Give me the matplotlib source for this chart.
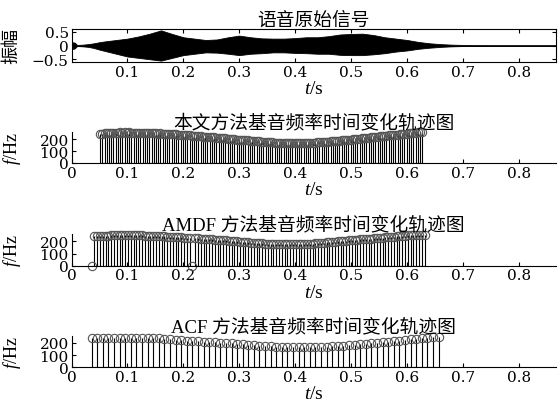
import numpy as np
import matplotlib
matplotlib.use("Agg")
import matplotlib.pyplot as plt

plt.rcParams['font.family'] = ['Liberation Serif', 'Noto Sans CJK SC']
plt.rcParams['mathtext.fontset'] = 'custom'
plt.rcParams['mathtext.rm'] = 'Liberation Serif'
plt.rcParams['mathtext.it'] = 'Liberation Serif:italic'
plt.rcParams['axes.unicode_minus'] = True

# waveform envelope
env_t = [0, 0.003, 0.006, 0.01, 0.02, 0.03, 0.04, 0.05, 0.06,
         0.08, 0.10, 0.12, 0.14, 0.16, 0.18, 0.20, 0.22, 0.24, 0.26, 0.28,
         0.30, 0.32, 0.34, 0.36, 0.38, 0.40, 0.42, 0.44, 0.46, 0.48, 0.50,
         0.52, 0.54, 0.56, 0.58, 0.60, 0.62, 0.64, 0.66, 0.68, 0.70, 0.72,
         0.75, 0.80, 0.866]
env_upper = [0, 0.12, 0.1, 0.02, 0.03, 0.05, 0.08, 0.12, 0.15,
             0.2, 0.25, 0.33, 0.43, 0.55, 0.42, 0.3, 0.25, 0.2, 0.22, 0.3,
             0.36, 0.3, 0.26, 0.25, 0.25, 0.27, 0.3, 0.3, 0.34, 0.4, 0.42,
             0.43, 0.38, 0.3, 0.25, 0.2, 0.13, 0.08, 0.05, 0.03, 0.02, 0.012,
             0.006, 0.003, 0.002]
env_lower = [0, -0.13, -0.1, -0.02, -0.03, -0.05, -0.09, -0.15, -0.2,
             -0.3, -0.4, -0.45, -0.5, -0.55, -0.45, -0.35, -0.3, -0.25, -0.26, -0.3,
             -0.35, -0.3, -0.28, -0.25, -0.25, -0.27, -0.28, -0.3, -0.3, -0.34, -0.35,
             -0.35, -0.32, -0.28, -0.22, -0.18, -0.12, -0.08, -0.05, -0.03, -0.02, -0.012,
             -0.006, -0.003, -0.002]

# pitch tracks (Hz), frame start time and frame step
prop_t0, prop_step = 0.051, 0.004
prop_f0 = [243, 246, 249, 251, 253, 252, 254, 255, 253, 256,
           255, 257, 254, 256, 255, 253, 255, 254, 252, 253,
           252, 250, 251, 249, 250, 248, 247, 248, 246, 245,
           244, 243, 241, 242, 240, 238, 237, 236, 234, 233,
           231, 230, 228, 227, 225, 224, 222, 220, 219, 217,
           216, 214, 212, 211, 209, 207, 206, 204, 202, 200,
           199, 197, 196, 194, 192, 190, 189, 187, 186, 184,
           182, 181, 179, 178, 176, 175, 174, 172, 171, 170,
           169, 168, 167, 166, 166, 165, 165, 164, 165, 165,
           166, 166, 167, 168, 169, 170, 171, 172, 174, 175,
           177, 178, 180, 181, 183, 185, 186, 188, 190, 192,
           193, 195, 197, 199, 201, 203, 205, 207, 209, 211,
           213, 215, 217, 219, 221, 223, 225, 227, 229, 231,
           233, 235, 237, 239, 241, 243, 245, 247, 249, 251,
           253, 255, 257, 259, 261]

amdf_t0, amdf_step = 0.036, 0.005
amdf_f0 = [0, 240, 243, 245, 246, 247, 246, 248, 249, 248,
           250, 251, 250, 249, 251, 250, 249, 248, 249, 247,
           246, 246, 245, 244, 243, 242, 240, 239, 238, 236,
           235, 234, 232, 231, 229, 228, 0, 226, 224, 223,
           221, 219, 218, 216, 214, 212, 211, 209, 207, 205,
           203, 201, 199, 197, 195, 194, 192, 190, 188, 187,
           185, 183, 182, 180, 179, 178, 177, 176, 175, 175,
           174, 174, 174, 175, 175, 176, 177, 178, 180, 181,
           183, 185, 187, 189, 191, 193, 195, 197, 199, 201,
           203, 205, 207, 209, 211, 213, 215, 217, 219, 221,
           223, 225, 227, 229, 231, 233, 235, 237, 239, 241,
           243, 245, 247, 248, 250, 251, 252, 253, 254, 255]

acf_t0, acf_step = 0.036, 0.01
acf_f0 = [238, 239, 239, 240, 239, 240, 240, 239, 240, 239,
          238, 238, 237, 236, 231, 226, 222, 219, 216, 214,
          211, 209, 206, 203, 200, 197, 193, 189, 185, 181,
          178, 175, 172, 170, 168, 166, 165, 164, 164, 165,
          166, 168, 170, 173, 176, 179, 183, 187, 191, 195,
          199, 203, 207, 211, 215, 220, 225, 230, 235, 240,
          244, 248, 251]

titles = ['语音原始信号', '本文方法基音频率时间变化轨迹图',
          'AMDF 方法基音频率时间变化轨迹图', 'ACF 方法基音频率时间变化轨迹图']

x_max = 0.866
f_max = 260
fs = 13
tick_font = dict(family='DejaVu Serif', size=11)

fig = plt.figure(figsize=(5.58, 4.14), dpi=100)
W, H = 558, 414


def px_axes(top, bottom, left=71.5, right=556):
    return fig.add_axes([left / W, 1 - bottom / H, (right - left) / W, (bottom - top) / H])


def style_ticks(ax):
    for lab in ax.get_xticklabels() + ax.get_yticklabels():
        lab.set_fontfamily(tick_font['family'])
        lab.set_fontsize(tick_font['size'])


# waveform panel
ax = px_axes(30, 63)
ax.fill_between(env_t, env_lower, env_upper, color='black', linewidth=0.6)
ax.axhline(0, color='black', linewidth=0.6)
ax.set_xlim(0, x_max)
ax.set_ylim(-0.6, 0.6)
ax.set_xticks([0.1, 0.2, 0.3, 0.4, 0.5, 0.6, 0.7, 0.8])
ax.set_yticks([-0.5, 0, 0.5])
ax.set_yticklabels(['\u22120.5', '0', '0.5'])
ax.tick_params(direction='in', top=True, right=True, length=3, width=0.8, pad=2)
style_ticks(ax)
for s in ax.spines.values():
    s.set_linewidth(0.8)
ax.set_title(titles[0], fontsize=fs + 0.5, pad=3)
ax.set_xlabel('$t$/s', fontsize=fs + 1, labelpad=1)
ax.set_ylabel('振幅', fontsize=fs)
ax.yaxis.set_label_coords(-0.105, 0.5)

tracks = [(prop_t0, prop_step, prop_f0), (amdf_t0, amdf_step, amdf_f0), (acf_t0, acf_step, acf_f0)]
boxes = [(133, 164), (235, 266.7), (336.7, 368.3)]

for i, ((t0, step, f0), (top, bottom)) in enumerate(zip(tracks, boxes)):
    ax = px_axes(top, bottom)
    t = t0 + step * np.arange(len(f0))
    ml, sl, bl = ax.stem(t, f0, linefmt='k-', markerfmt='o', basefmt='k-')
    plt.setp(sl, linewidth=0.8)
    plt.setp(ml, markerfacecolor='none', markeredgecolor='#555555', markersize=6,
             markeredgewidth=0.8, clip_on=False)
    plt.setp(bl, linewidth=0.8)
    ax.set_xlim(0, x_max)
    ax.set_ylim(0, f_max)
    ax.set_xticks([0, 0.1, 0.2, 0.3, 0.4, 0.5, 0.6, 0.7, 0.8])
    ax.set_xticklabels(['0', '0.1', '0.2', '0.3', '0.4', '0.5', '0.6', '0.7', '0.8'])
    ax.set_yticks([0, 100, 200])
    ax.spines['top'].set_visible(False)
    ax.spines['right'].set_visible(False)
    for s in ['left', 'bottom']:
        ax.spines[s].set_linewidth(0.8)
    ax.tick_params(direction='in', length=3, width=0.8, pad=2)
    style_ticks(ax)
    ax.set_title(titles[i + 1], fontsize=fs + 0.5, pad=3)
    ax.set_xlabel('$t$/s', fontsize=fs + 1, labelpad=1)
    ax.set_ylabel('$f$/Hz', fontsize=fs)
    ax.yaxis.set_label_coords(-0.1, 0.5)

fig.savefig('out.png', dpi=100, facecolor='white')
